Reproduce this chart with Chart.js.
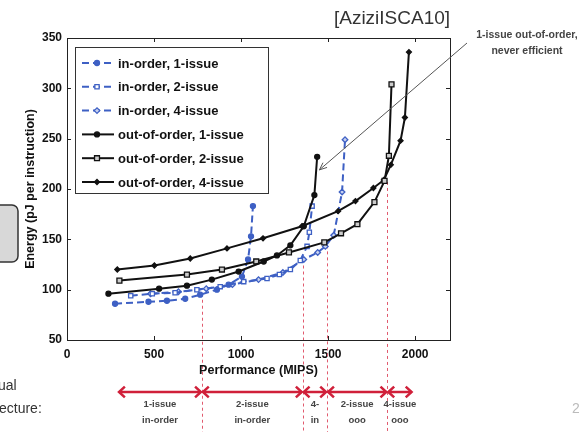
<html>
<head>
<meta charset="utf-8">
<title>Energy vs performance</title>
<script src="https://cdn.jsdelivr.net/npm/chart.js@4.4.0/dist/chart.umd.min.js"></script>
<style>
  body { margin: 0; background: #fff; }
  #wrap { width: 579px; height: 435px; }
</style>
</head>
<body>
<div id="wrap"><canvas id="energy_chart"></canvas></div>

<script>
  // values (MIPS, pJ per instruction)
  var io1X = [276, 468, 574, 679, 765, 861, 928, 1005, 1040, 1057, 1068]
  var io1Y = [86, 88, 89, 91, 95, 100, 105, 113, 130, 153, 183]
  var io2X = [366, 490, 621, 746, 880, 1015, 1149, 1220, 1283, 1340, 1379, 1392, 1408]
  var io2Y = [94, 96, 97, 100, 103, 108, 111, 115, 120, 129, 143, 157, 183]
  var io4X = [480, 640, 800, 950, 1100, 1240, 1360, 1440, 1484, 1532, 1580, 1597]
  var io4Y = [96, 98, 101, 105, 110, 117, 130, 137, 143, 154, 197, 249]
  var ooo1X = [238, 529, 689, 832, 986, 1130, 1206, 1283, 1360, 1421, 1437]
  var ooo1Y = [96, 101, 104, 110, 118, 128, 134, 144, 163, 194, 232]
  var ooo2X = [301, 689, 890, 1087, 1275, 1478, 1574, 1668, 1766, 1824, 1849, 1864]
  var ooo2Y = [109, 115, 120, 128, 137, 147, 156, 165, 187, 208, 233, 304]
  var ooo4X = [289, 502, 708, 919, 1126, 1350, 1557, 1657, 1760, 1820, 1860, 1916, 1941, 1964]
  var ooo4Y = [120, 124, 131, 141, 151, 163, 178, 188, 201, 209, 224, 248, 271, 336]

  var seriesNames = ['in-order, 1-issue', 'in-order, 2-issue', 'in-order, 4-issue',
                     'out-of-order, 1-issue', 'out-of-order, 2-issue', 'out-of-order, 4-issue']
  var xTicks = [0, 500, 1000, 1500, 2000]
  var yTicks = [50, 100, 150, 200, 250, 300, 350]

  // optimal architecture bands along the x axis
  var archBounds = [293, 775, 1354, 1494, 1840, 1985]
  var boundTopY = [90, 124, 144, 207]
  var archLabels = [['1-issue', 'in-order'], ['2-issue', 'in-order'], ['4-', 'in'], ['2-issue', 'ooo'], ['4-issue', 'ooo']]
  var arrowTarget = [1450, 219]

  function pts(xs, ys) {
    return xs.map(function (x, i) { return { x: x, y: ys[i] } })
  }

  var BLUE = 'rgb(62, 96, 196)'
  var BLACK = '#111'

  function mk(i, xs, ys, col, style, fill, rad, dashed) {
    return {
      label: seriesNames[i],
      data: pts(xs, ys),
      borderColor: col,
      backgroundColor: fill,
      borderWidth: 2,
      borderDash: dashed ? [7, 4] : [],
      pointStyle: style,
      pointRadius: rad,
      pointBorderColor: col,
      pointBackgroundColor: fill,
      pointBorderWidth: 1.3,
      tension: 0,
      order: dashed ? 1 : 0
    }
  }

  var datasets = [
    mk(0, io1X, io1Y, BLUE, 'circle', BLUE, 2.5, true),
    mk(1, io2X, io2Y, BLUE, 'rect', '#fff', 3, true),
    mk(2, io4X, io4Y, BLUE, 'rectRot', '#c8d2f0', 2.8, true),
    mk(3, ooo1X, ooo1Y, BLACK, 'circle', BLACK, 2.5, false),
    mk(4, ooo2X, ooo2Y, BLACK, 'rect', '#ccc', 3.5, false),
    mk(5, ooo4X, ooo4Y, BLACK, 'rectRot', BLACK, 2.5, false)
  ]

  function arrowHead(ctx, x, y, ang, len, spread) {
    ctx.beginPath()
    ctx.moveTo(x + len * Math.cos(ang + spread), y + len * Math.sin(ang + spread))
    ctx.lineTo(x, y)
    ctx.lineTo(x + len * Math.cos(ang - spread), y + len * Math.sin(ang - spread))
    ctx.stroke()
  }

  var decor = {
    id: 'decor',
    beforeDatasetsDraw: function (chart) {
      var ctx = chart.ctx, xs = chart.scales.x, ys = chart.scales.y
      ctx.save()
      // red dashed boundaries
      ctx.strokeStyle = 'rgb(225, 90, 110)'
      ctx.lineWidth = 1
      ctx.setLineDash([3, 3])
      for (var i = 1; i < archBounds.length - 1; i++) {
        var px = Math.round(xs.getPixelForValue(archBounds[i])) + 0.5
        ctx.beginPath()
        ctx.moveTo(px, ys.getPixelForValue(boundTopY[i - 1]))
        ctx.lineTo(px, 432)
        ctx.stroke()
      }
      ctx.restore()
    },
    afterDraw: function (chart) {
      var ctx = chart.ctx, a = chart.chartArea, xs = chart.scales.x, ys = chart.scales.y
      ctx.save()
      // box and inward ticks
      ctx.strokeStyle = '#222'
      ctx.lineWidth = 1
      ctx.strokeRect(Math.round(a.left) + 0.5, Math.round(a.top) + 0.5, Math.round(a.right - a.left), Math.round(a.bottom - a.top))
      ctx.beginPath()
      xTicks.forEach(function (v) {
        var px = Math.round(xs.getPixelForValue(v)) + 0.5
        ctx.moveTo(px, a.bottom); ctx.lineTo(px, a.bottom - 4)
        ctx.moveTo(px, a.top); ctx.lineTo(px, a.top + 4)
      })
      yTicks.forEach(function (v) {
        var py = Math.round(ys.getPixelForValue(v)) + 0.5
        ctx.moveTo(a.left, py); ctx.lineTo(a.left + 4, py)
        ctx.moveTo(a.right, py); ctx.lineTo(a.right - 4, py)
      })
      ctx.stroke()

      // axis titles
      ctx.fillStyle = '#111'
      ctx.font = 'bold 12.5px "Liberation Sans", Arial, sans-serif'
      ctx.textAlign = 'center'
      ctx.textBaseline = 'middle'
      ctx.fillText('Performance (MIPS)', (a.left + a.right) / 2, 371)
      ctx.save()
      ctx.translate(31, (a.top + a.bottom) / 2)
      ctx.rotate(-Math.PI / 2)
      ctx.fillText('Energy (pJ per instruction)', 0, 0)
      ctx.restore()

      // legend
      var lx = 75, ly = 47
      ctx.fillStyle = '#fff'
      ctx.fillRect(lx, ly, 193, 146)
      ctx.strokeStyle = '#333'
      ctx.strokeRect(lx + 0.5, ly + 0.5, 193, 146)
      chart.data.datasets.forEach(function (ds, i) {
        var yy = 63 + i * 23.8
        ctx.save()
        ctx.strokeStyle = ds.borderColor
        ctx.lineWidth = 2
        ctx.setLineDash(ds.borderDash)
        ctx.beginPath(); ctx.moveTo(82, yy); ctx.lineTo(114, yy); ctx.stroke()
        ctx.setLineDash([])
        ctx.fillStyle = ds.pointBackgroundColor
        ctx.lineWidth = 1.3
        Chart.helpers.drawPoint(ctx, { pointStyle: ds.pointStyle, radius: ds.pointRadius, borderWidth: 1.3 }, 97, yy)
        ctx.restore()
        ctx.fillStyle = '#111'
        ctx.font = 'bold 13px "Liberation Sans", Arial, sans-serif'
        ctx.textAlign = 'left'
        ctx.fillText(ds.label, 118, yy + 1)
      })

      // architecture arrows below the axis
      ctx.strokeStyle = 'rgb(208, 32, 58)'
      ctx.lineWidth = 2.5
      var ay = 392
      for (var k = 0; k < archLabels.length; k++) {
        var x0 = xs.getPixelForValue(archBounds[k]) + 1
        var x1 = xs.getPixelForValue(archBounds[k + 1]) - 1
        ctx.beginPath(); ctx.moveTo(x0, ay); ctx.lineTo(x1, ay); ctx.stroke()
        arrowHead(ctx, x0, ay, 0, 8, 0.75)
        arrowHead(ctx, x1, ay, Math.PI, 8, 0.75)
        ctx.fillStyle = '#444'
        ctx.font = 'bold 9.5px "Liberation Sans", Arial, sans-serif'
        ctx.textAlign = 'center'
        ctx.fillText(archLabels[k][0], (x0 + x1) / 2, 404)
        ctx.fillText(archLabels[k][1], (x0 + x1) / 2, 420)
      }

      // callout arrow
      var tx = xs.getPixelForValue(arrowTarget[0]), ty = ys.getPixelForValue(arrowTarget[1])
      var sx = 467, sy = 43
      ctx.strokeStyle = '#555'
      ctx.lineWidth = 1
      ctx.beginPath(); ctx.moveTo(sx, sy); ctx.lineTo(tx, ty); ctx.stroke()
      arrowHead(ctx, tx, ty, Math.atan2(sy - ty, sx - tx), 8, 0.4)
      ctx.fillStyle = '#444'
      ctx.font = 'bold 10.5px "Liberation Sans", Arial, sans-serif'
      ctx.fillText('1-issue out-of-order,', 527, 35)
      ctx.fillText('never efficient', 527, 51)

      // citation and slide leftovers
      ctx.fillStyle = '#333'
      ctx.font = '19px "Liberation Sans", Arial, sans-serif'
      ctx.fillText('[AziziISCA10]', 392, 19)
      ctx.font = '14px "Liberation Sans", Arial, sans-serif'
      ctx.textAlign = 'left'
      ctx.fillText('ual', -2, 386)
      ctx.fillText('ecture:', -1, 409)
      ctx.fillStyle = '#bbb'
      ctx.fillText('2', 572, 409)
      ctx.fillStyle = '#d8d8d8'
      ctx.strokeStyle = '#333'
      ctx.lineWidth = 1.5
      ctx.beginPath()
      ctx.roundRect(-10, 205, 28, 57, 6)
      ctx.fill(); ctx.stroke()
      ctx.restore()
    }
  }

  var ctx = document.getElementById('energy_chart').getContext('2d')
  var chart = new Chart(ctx, {
    type: 'line',
    data: { datasets: datasets },
    options: {
      animation: false,
      responsive: true,
      maintainAspectRatio: false,
      layout: { padding: { left: 0, top: 38, right: 129, bottom: 0 } },
      plugins: { legend: { display: false }, tooltip: { enabled: false } },
      scales: {
        x: {
          type: 'linear', min: 0, max: 2200,
          grid: { display: false, drawTicks: false },
          border: { display: false },
          afterBuildTicks: function (s) { s.ticks = xTicks.map(function (v) { return { value: v } }) },
          afterFit: function (s) { s.height = 95 },
          ticks: {
            color: '#111', padding: 7, maxRotation: 0,
            font: { family: 'Liberation Sans', weight: 'bold', size: 12 },
            callback: function (v) { return String(v) }
          }
        },
        y: {
          type: 'linear', min: 50, max: 350,
          grid: { display: false, drawTicks: false },
          border: { display: false },
          afterBuildTicks: function (s) { s.ticks = yTicks.map(function (v) { return { value: v } }) },
          afterFit: function (s) { s.width = 67 },
          ticks: {
            color: '#111', padding: 5,
            font: { family: 'Liberation Sans', weight: 'bold', size: 12 },
            callback: function (v) { return String(v) }
          }
        }
      }
    },
    plugins: [decor]
  });
</script>
</body>
</html>
